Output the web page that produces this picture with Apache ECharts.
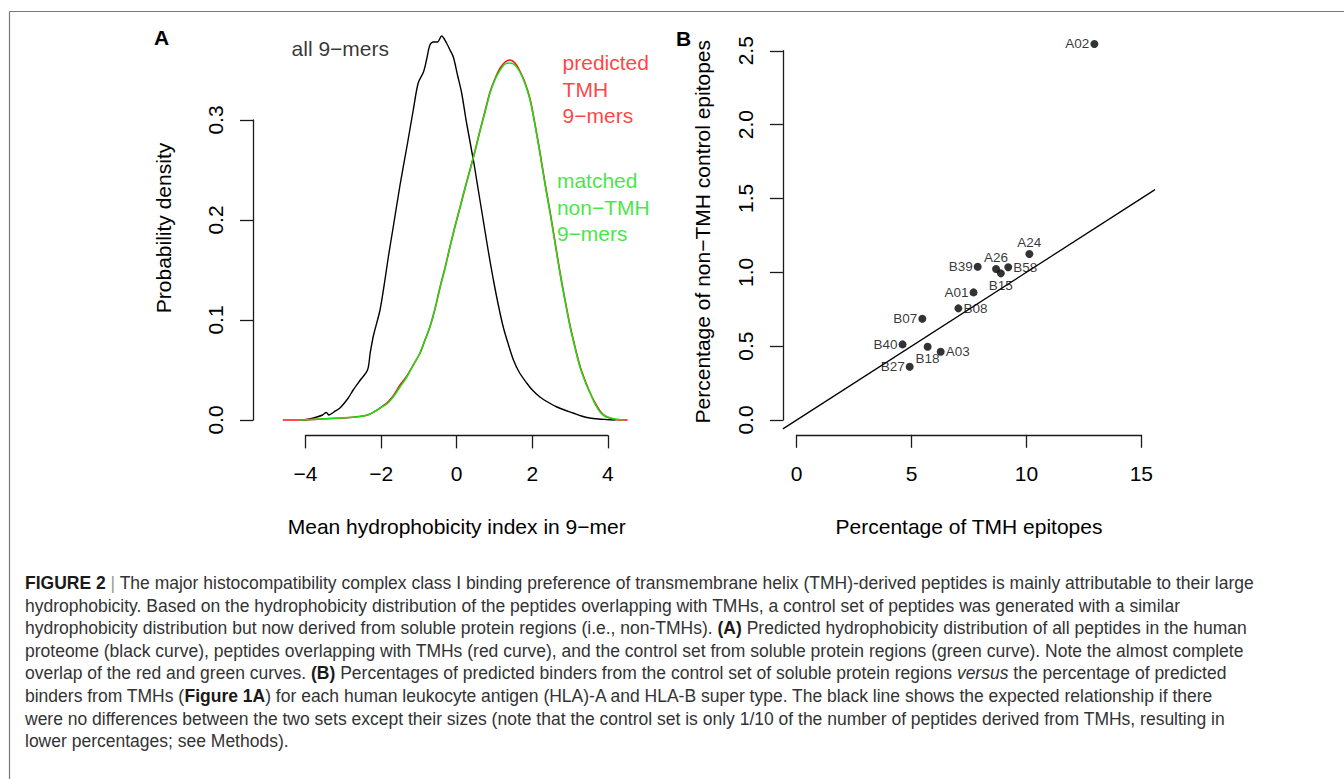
<!DOCTYPE html>
<html><head><meta charset="utf-8">
<script src="https://cdn.jsdelivr.net/npm/echarts@6/dist/echarts.min.js"></script>
<style>html,body{margin:0;padding:0;background:#fff}#c{width:1344px;height:779px}</style>
</head><body><div id="c"></div>
<script>
// ---------- Panel A data: density of mean hydrophobicity index ----------
const hydroAll = [-4.10,-3.90,-3.70,-3.55,-3.45,-3.38,-3.25,-3.09,-2.87,-2.74,-2.55,-2.36,-2.29,-2.20,-2.03,-1.90,-1.81,-1.68,-1.50,-1.32,-1.15,-1.02,-0.88,-0.80,-0.71,-0.62,-0.51,-0.40,-0.27,-0.18,-0.09,0.02,0.13,0.26,0.44,0.57,0.70,0.83,0.97,1.10,1.23,1.37,1.50,1.65,1.85,2.00,2.20,2.45,2.65,2.85,3.08,3.30,3.52,3.75,3.96,4.20];
const densityAll = [0.000,0.001,0.003,0.005,0.0075,0.005,0.008,0.012,0.022,0.030,0.040,0.050,0.067,0.085,0.110,0.140,0.163,0.193,0.235,0.273,0.310,0.337,0.348,0.360,0.375,0.378,0.378,0.384,0.377,0.370,0.363,0.345,0.327,0.297,0.260,0.230,0.200,0.170,0.140,0.115,0.093,0.075,0.060,0.048,0.037,0.030,0.023,0.017,0.013,0.010,0.007,0.004,0.002,0.001,0.0005,0.000];

const hydroTMH = [-4.60,-4.15,-3.60,-3.08,-2.70,-2.36,-2.15,-2.03,-1.85,-1.68,-1.50,-1.32,-1.15,-0.97,-0.84,-0.71,-0.57,-0.44,-0.31,-0.18,-0.05,0.09,0.22,0.35,0.49,0.62,0.75,0.88,1.02,1.15,1.28,1.41,1.54,1.67,1.80,1.94,2.07,2.20,2.33,2.47,2.60,2.73,2.86,3.00,3.13,3.26,3.40,3.53,3.66,3.79,3.92,4.06,4.30,4.52];
const densityTMH = [0.000,0.000,0.001,0.002,0.003,0.005,0.009,0.012,0.017,0.024,0.035,0.044,0.055,0.067,0.080,0.093,0.112,0.133,0.152,0.173,0.193,0.213,0.232,0.250,0.270,0.290,0.309,0.328,0.342,0.352,0.358,0.360,0.357,0.349,0.338,0.321,0.296,0.268,0.238,0.208,0.178,0.148,0.121,0.094,0.073,0.054,0.039,0.027,0.017,0.009,0.004,0.002,0.000,0.000];

const hydroCtrl = [-4.15,-3.60,-3.08,-2.70,-2.36,-2.15,-2.03,-1.85,-1.68,-1.50,-1.32,-1.15,-0.97,-0.84,-0.71,-0.57,-0.44,-0.31,-0.18,-0.05,0.09,0.22,0.35,0.49,0.62,0.75,0.88,1.02,1.15,1.28,1.41,1.54,1.67,1.80,1.94,2.07,2.20,2.33,2.47,2.60,2.73,2.86,3.00,3.13,3.26,3.40,3.53,3.66,3.79,3.92,4.06,4.40];
const densityCtrl = [0.000,0.001,0.002,0.003,0.005,0.009,0.012,0.016,0.023,0.033,0.043,0.055,0.067,0.080,0.093,0.112,0.133,0.152,0.173,0.193,0.213,0.232,0.250,0.270,0.290,0.308,0.327,0.341,0.350,0.356,0.357,0.355,0.348,0.337,0.320,0.295,0.267,0.237,0.207,0.177,0.147,0.120,0.093,0.072,0.053,0.038,0.027,0.016,0.008,0.004,0.002,0.000];

const annotTextsA = ['all 9\u2212mers', 'predicted\nTMH\n9\u2212mers', 'matched\nnon\u2212TMH\n9\u2212mers'];
const annotXA = [-4.37, 2.80, 2.65];
const annotYA = [0.372, 0.331, 0.213];

// ---------- Panel B data: HLA supertypes ----------
const hlaTypes = ['A02','A24','B39','A26','B58','B15','A01','B08','B07','B40','B18','A03','B27'];
const tmhEpitopePct = [12.96,10.13,7.88,8.68,9.21,8.89,7.70,7.04,5.47,4.61,5.70,6.27,4.92];
const ctrlEpitopePct = [2.546,1.124,1.038,1.022,1.034,0.993,0.864,0.756,0.686,0.512,0.496,0.462,0.361];
const expectedSlope = 0.1;

// tick labels
const xTicksA = [-4,-2,0,2,4];
const yTicksA = [0.0,0.1,0.2,0.3];
const xTicksB = [0,5,10,15];
const yTicksB = [0.0,0.5,1.0,1.5,2.0,2.5];

const captionLines = [
 '{b|FIGURE 2} {s||} The major histocompatibility complex class I binding preference of transmembrane helix (TMH)-derived peptides is mainly attributable to their large',
 'hydrophobicity. Based on the hydrophobicity distribution of the peptides overlapping with TMHs, a control set of peptides was generated with a similar',
 'hydrophobicity distribution but now derived from soluble protein regions (i.e., non-TMHs). {b|(A)} Predicted hydrophobicity distribution of all peptides in the human',
 'proteome (black curve), peptides overlapping with TMHs (red curve), and the control set from soluble protein regions (green curve). Note the almost complete',
 'overlap of the red and green curves. {b|(B)} Percentages of predicted binders from the control set of soluble protein regions {i|versus} the percentage of predicted',
 'binders from TMHs ({b|Figure 1A}) for each human leukocyte antigen (HLA)-A and HLA-B super type. The black line shows the expected relationship if there',
 'were no differences between the two sets except their sizes (note that the control set is only 1/10 of the number of peptides derived from TMHs, resulting in',
 'lower percentages; see Methods).'
];

// ---------- styling / layout ----------
const FONT = '"Liberation Sans", Arial, Helvetica, sans-serif';
const AX = '#1a1a1a';
const RED = '#ff1010';
const GREEN = '#14e014';
const txt = {fontFamily: FONT, fontSize: 21, color: '#000'};
const minusFmt = v => v < 0 ? '\u2212' + Math.abs(v) : String(v);
const fix1 = v => Number(v).toFixed(1);

// plot-region ranges (R style 4% extension)
const A = {xmin: -5.39, xmax: 5.38, ymin: -0.0154, ymax: 0.3994};
const B = {xmin: -0.6, xmax: 15.6, ymin: -0.1, ymax: 2.65};

function dataAxis(gi, min, max, extra) {
  return Object.assign({gridIndex: gi, type: 'value', min, max,
    axisLine: {show: false, onZero: false}, axisTick: {show: false}, axisLabel: {show: false}, splitLine: {show: false}}, extra || {});
}
function dispAxis(gi, ticks, fmt, margin, rotate) {
  return {gridIndex: gi, type: 'value', min: ticks[0], max: ticks[ticks.length - 1],
    interval: ticks[1] - ticks[0],
    axisLine: {show: true, onZero: false, lineStyle: {color: AX, width: 1.3}},
    axisTick: {show: true, length: 13, lineStyle: {color: AX, width: 1.3}},
    axisLabel: Object.assign({formatter: fmt, margin: margin, rotate: rotate || 0, showMinLabel: true, showMaxLabel: true}, txt),
    splitLine: {show: false}};
}
function hidden(gi, min, max) { return {gridIndex: gi, type: 'value', show: false, min, max, axisLine: {onZero: false}}; }

const zip = (a, b) => a.map((v, i) => [v, b[i]]);

const labelSideB = ['left','top','left','top','right','bottom','left','right','left','left','bottom','right','left'];

const option = {
  animation: false,
  backgroundColor: '#fff',
  grid: [
    {left: 253, top: 20.6, width: 407.1, height: 414.8},   // 0 A data
    {left: 305.5, top: 20.6, width: 302.4, height: 414.8}, // 1 A x axis
    {left: 253, top: 120, width: 407.1, height: 300},      // 2 A y axis
    {left: 782.9, top: 28.6, width: 372.1, height: 406.2}, // 3 B data
    {left: 796.7, top: 28.6, width: 344.6, height: 406.2}, // 4 B x axis
    {left: 782.9, top: 50.75, width: 372.1, height: 369.25} // 5 B y axis
  ],
  xAxis: [
    dataAxis(0, A.xmin, A.xmax),
    Object.assign(dispAxis(1, xTicksA, minusFmt, 28), {name: 'Mean hydrophobicity index in 9\u2212mer', nameLocation: 'middle', nameGap: 81, nameTextStyle: txt}),
    hidden(2, A.xmin, A.xmax),
    dataAxis(3, B.xmin, B.xmax),
    Object.assign(dispAxis(4, xTicksB, v => String(v), 28), {name: 'Percentage of TMH epitopes', nameLocation: 'middle', nameGap: 81, nameTextStyle: txt}),
    hidden(5, B.xmin, B.xmax)
  ],
  yAxis: [
    dataAxis(0, A.ymin, A.ymax, {name: 'Probability density', nameLocation: 'middle', nameGap: 79, nameTextStyle: txt}),
    hidden(1, A.ymin, A.ymax),
    dispAxis(2, yTicksA, fix1, 27, 90),
    dataAxis(3, B.ymin, B.ymax, {name: 'Percentage of non\u2212TMH control epitopes', nameLocation: 'middle', nameGap: 70, nameTextStyle: txt}),
    hidden(4, B.ymin, B.ymax),
    dispAxis(5, yTicksB, fix1, 27, 90)
  ],
  series: [
    {type: 'line', xAxisIndex: 0, yAxisIndex: 0, data: zip(hydroAll, densityAll), symbol: 'none', smooth: 0.3,
     lineStyle: {color: '#000', width: 1.4}, silent: true, z: 2},
    {type: 'line', xAxisIndex: 0, yAxisIndex: 0, data: zip(hydroTMH, densityTMH), symbol: 'none', smooth: 0.3,
     lineStyle: {color: RED, width: 1.6}, silent: true, z: 3},
    {type: 'line', xAxisIndex: 0, yAxisIndex: 0, data: zip(hydroCtrl, densityCtrl), symbol: 'none', smooth: 0.3,
     lineStyle: {color: GREEN, width: 1.5}, silent: true, z: 4},
    {type: 'scatter', xAxisIndex: 0, yAxisIndex: 0, symbolSize: 0, silent: true, z: 5,
     data: annotTextsA.map((t, i) => ({value: [annotXA[i], annotYA[i]], name: t,
       label: {show: true, position: 'right', distance: 0, formatter: t, align: 'left',
         fontFamily: FONT, fontSize: 21, lineHeight: 26.5, color: ['#000', RED, GREEN][i]}}))},
    {type: 'line', xAxisIndex: 3, yAxisIndex: 3, symbol: 'none', silent: true, clip: true,
     data: [[B.xmin, expectedSlope * B.xmin], [B.xmax, expectedSlope * B.xmax]],
     lineStyle: {color: '#000', width: 1.3}},
    {type: 'scatter', xAxisIndex: 3, yAxisIndex: 3, symbol: 'circle', symbolSize: 8, silent: true,
     itemStyle: {color: '#000'},
     data: hlaTypes.map((n, i) => ({value: [tmhEpitopePct[i], ctrlEpitopePct[i]], name: n,
       label: {show: true, position: labelSideB[i], distance: 1, formatter: n,
         fontFamily: FONT, fontSize: 13.5, color: '#000'}}))}
  ],
  graphic: [
    {type: 'line', shape: {x1: 9.5, y1: 11.5, x2: 1344, y2: 11.5}, style: {stroke: '#777', lineWidth: 1.2}, silent: true},
    {type: 'line', shape: {x1: 9.5, y1: 11.5, x2: 9.5, y2: 779}, style: {stroke: '#777', lineWidth: 1.2}, silent: true},
    {type: 'text', x: 161.5, y: 37, style: {text: 'A', font: 'bold 21px ' + FONT, fill: '#000', align: 'center', verticalAlign: 'middle'}},
    {type: 'text', x: 683.5, y: 38, style: {text: 'B', font: 'bold 21px ' + FONT, fill: '#000', align: 'center', verticalAlign: 'middle'}}
  ].concat(captionLines.map((t, i) => ({
    type: 'text', x: 25, y: 583 + i * 22.6, silent: true,
    style: {text: t, fontFamily: FONT, fontSize: 17.5, fill: '#333', verticalAlign: 'middle', align: 'left',
      rich: {
        b: {fontFamily: FONT, fontSize: 17.5, fontWeight: 'bold', fill: '#1a1a1a', color: '#1a1a1a'},
        i: {fontFamily: FONT, fontSize: 17.5, fontStyle: 'italic', fill: '#333', color: '#333'},
        s: {fontFamily: FONT, fontSize: 17.5, fill: '#999', color: '#999'}
      }}
  })))
};

const chart = echarts.init(document.getElementById('c'), null, {renderer: 'svg', width: 1344, height: 779});
chart.setOption(option);
</script></body></html>
